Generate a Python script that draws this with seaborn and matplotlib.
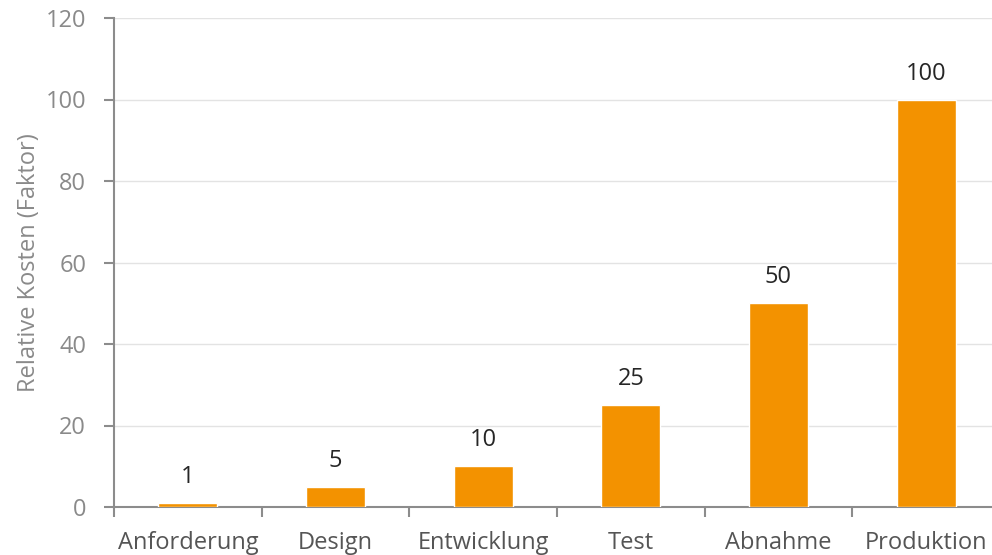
import matplotlib
matplotlib.use("Agg")
import matplotlib.pyplot as plt
import seaborn as sns
import pandas as pd
import numpy as np

categories = ["Anforderung", "Design", "Entwicklung", "Test", "Abnahme", "Produktion"]
values = [1, 5, 10, 25, 50, 100]
y_ticks = [0, 20, 40, 60, 80, 100, 120]

sns.set_theme(style="white")
plt.rcParams['font.family'] = ['Open Sans', 'DejaVu Sans']

df = pd.DataFrame({"Phase": categories, "Kosten": values})

fig = plt.figure(figsize=(9.92, 5.55), dpi=100)
W, H = 992, 555
left, right, top, bottom = 114, 1000, 18, 507
ax = fig.add_axes([left / W, (H - bottom) / H, (right - left) / W, (bottom - top) / H])

sns.barplot(data=df, x="Phase", y="Kosten", color="#F39200", width=0.4,
            saturation=1, ax=ax, zorder=3)

ax.set_xlim(-0.5, len(categories) - 0.5)
ax.set_ylim(0, 120)
ax.set_yticks(y_ticks)
ax.yaxis.grid(True, color="#e3e3e3", linewidth=1, zorder=0)
ax.set_axisbelow(True)

for s in ["top", "right"]:
    ax.spines[s].set_visible(False)
for s in ["left", "bottom"]:
    ax.spines[s].set_color("#8c8c8c")
    ax.spines[s].set_linewidth(1.5)

ax.tick_params(axis="y", which="major", left=True, length=7, width=1.5, color="#8c8c8c",
               labelsize=17, labelcolor="#8a8a8a", pad=13)
ax.tick_params(axis="x", which="major", bottom=False, labelsize=17, labelcolor="#555555", pad=11)
ax.set_xticks(np.arange(-0.5, len(categories), 1.0), minor=True)
ax.tick_params(axis="x", which="minor", bottom=True, length=7, width=1.5, color="#8c8c8c")

ax.set_xlabel("")
ax.set_ylabel("Relative Kosten (Faktor)", fontsize=17, color="#8a8a8a", labelpad=3)

for i, v in enumerate(values):
    ax.annotate(str(v), (i, v), xytext=(0, 10), textcoords="offset points",
                ha="center", va="bottom", fontsize=17, color="#262626")

fig.savefig("out.png", dpi=100)
